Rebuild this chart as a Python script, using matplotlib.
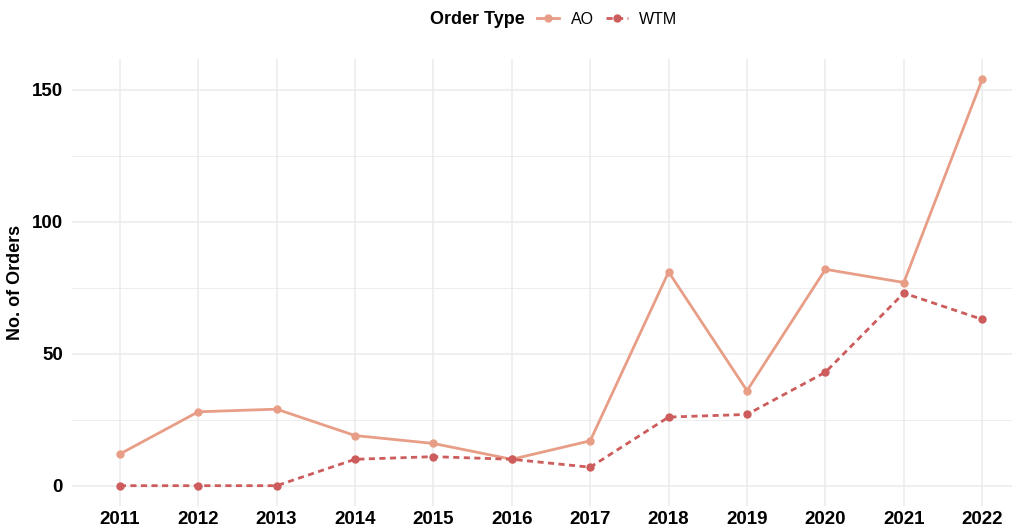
import matplotlib
matplotlib.use("Agg")
import matplotlib.pyplot as plt
from matplotlib.ticker import MultipleLocator
from matplotlib.lines import Line2D

years = [2011, 2012, 2013, 2014, 2015, 2016, 2017, 2018, 2019, 2020, 2021, 2022]
ao = [12, 28, 29, 19, 16, 10, 17, 81, 36, 82, 77, 154]
wtm = [0, 0, 0, 10, 11, 10, 7, 26, 27, 43, 73, 63]
series_names = ["AO", "WTM"]

plt.rcParams['font.family'] = ['Liberation Sans', 'DejaVu Sans']

fig = plt.figure(figsize=(10.16, 5.29), dpi=100)
W, H = 1016, 529
ax = fig.add_axes([72 / W, (H - 506) / H, (1012 - 72) / W, (506 - 59) / H])

c_ao = "#E89E86"
c_wtm = "#CD5C5C"
dash = (0, (2.2, 1.6))

ax.plot(years, ao, color=c_ao, lw=2.0, marker='o', ms=5, label=series_names[0])
ax.plot(years, wtm, color=c_wtm, lw=2.0, ls=dash, marker='o', ms=5, label=series_names[1])

ax.set_xlim(2010.39, 2022.38)
ax.set_ylim(-7.7, 161.7)
ax.set_xticks(years)
ax.set_xticklabels([str(y) for y in years])
ax.yaxis.set_major_locator(MultipleLocator(50))
ax.yaxis.set_minor_locator(MultipleLocator(25))

ax.grid(True, which='major', color='#EBEBEB', lw=1.1)
ax.grid(True, which='minor', axis='y', color='#EBEBEB', lw=0.6)
ax.set_axisbelow(True)
for s in ax.spines.values():
    s.set_visible(False)
ax.tick_params(which='both', length=0)
ax.tick_params(axis='x', labelsize=13.5, pad=3.5)
ax.tick_params(axis='y', labelsize=13.5, pad=6.5)
for lbl in ax.get_xticklabels() + ax.get_yticklabels():
    lbl.set_fontweight('bold')
ax.set_ylabel("No. of Orders", fontsize=13, fontweight='bold', labelpad=6)

fig.text(525 / W, 1 - 19 / H, "Order Type", fontsize=13, fontweight='bold',
         ha='right', va='center')
handles = [Line2D([], [], color=c_ao, lw=2.0, marker='o', ms=5),
           Line2D([], [], color=c_wtm, lw=2.0, ls=dash, marker='o', ms=5)]
leg = fig.legend(handles, series_names, loc='center left',
                 bbox_to_anchor=(537 / W, 1 - 19 / H), ncol=2, frameon=False,
                 fontsize=11.5, handlelength=1.4, columnspacing=0.75,
                 handletextpad=0.7, borderaxespad=0, borderpad=0)

fig.savefig("out.png", dpi=100)
